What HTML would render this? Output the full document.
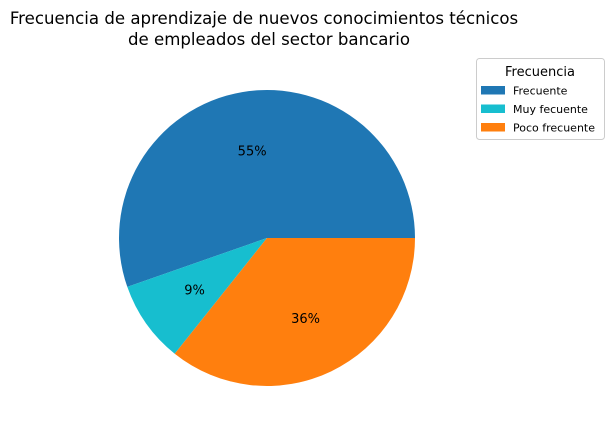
<!DOCTYPE html>
<html><head><meta charset="utf-8">
<style>
html,body{margin:0;padding:0;background:#fff;}
svg{display:block;font-family:"DejaVu Sans","Liberation Sans",sans-serif;}
</style></head>
<body>
<svg id="chart" width="614" height="433" viewBox="0 0 614 433">
  <text x="264" y="24" text-anchor="middle" font-size="16.6" fill="#000">Frecuencia de aprendizaje de nuevos conocimientos técnicos</text>
  <text x="269" y="45" text-anchor="middle" font-size="16.6" fill="#000">de empleados del sector bancario</text>
  <g id="slices"></g>
  <g id="legend">
    <rect x="476.5" y="58.5" width="128" height="81" rx="3" fill="#fff" stroke="#ccc"/>
    <text x="540" y="76" text-anchor="middle" font-size="13">Frecuencia</text>
  </g>
</svg>
<script>
const categories = ["Frecuente", "Muy fecuente", "Poco frecuente"];
const values = [31, 5, 20];
const colors = ["#1f77b4", "#17becf", "#ff7f0e"];

const cx = 267, cy = 238, r = 148;
const NS = "http://www.w3.org/2000/svg";
const sl = document.getElementById("slices");
const lg = document.getElementById("legend");
const total = values.reduce((a, b) => a + b, 0);
function pt(a, rr) { return [cx + rr * Math.cos(a), cy - rr * Math.sin(a)]; }
let start = 0;
values.forEach((v, i) => {
  const sweep = v / total * 2 * Math.PI;
  const end = start + sweep;
  const [x1, y1] = pt(start, r), [x2, y2] = pt(end, r);
  const large = sweep > Math.PI ? 1 : 0;
  const p = document.createElementNS(NS, "path");
  p.setAttribute("d", `M${cx},${cy} L${x1},${y1} A${r},${r} 0 ${large} 0 ${x2},${y2} Z`);
  p.setAttribute("fill", colors[i]);
  
  
  sl.appendChild(p);
  const mid = (start + end) / 2;
  const [lx, ly] = pt(mid, r * 0.6);
  const t = document.createElementNS(NS, "text");
  t.setAttribute("x", lx); t.setAttribute("y", ly + 5);
  t.setAttribute("text-anchor", "middle"); t.setAttribute("font-size", "13");
  t.textContent = Math.round(v / total * 100) + "%";
  
  
  sl.appendChild(t);
  start = end;

  const y0 = 86 + i * 18.5;
  const sw = document.createElementNS(NS, "rect");
  sw.setAttribute("x", 481); sw.setAttribute("y", y0);
  sw.setAttribute("width", 24); sw.setAttribute("height", 8.5);
  sw.setAttribute("fill", colors[i]);
  
  
  lg.appendChild(sw);
  const lt = document.createElementNS(NS, "text");
  lt.setAttribute("x", 513); lt.setAttribute("y", y0 + 8.5);
  lt.setAttribute("font-size", "11");
  lt.textContent = categories[i];
  
  
  lg.appendChild(lt);
});
</script>
</body></html>
